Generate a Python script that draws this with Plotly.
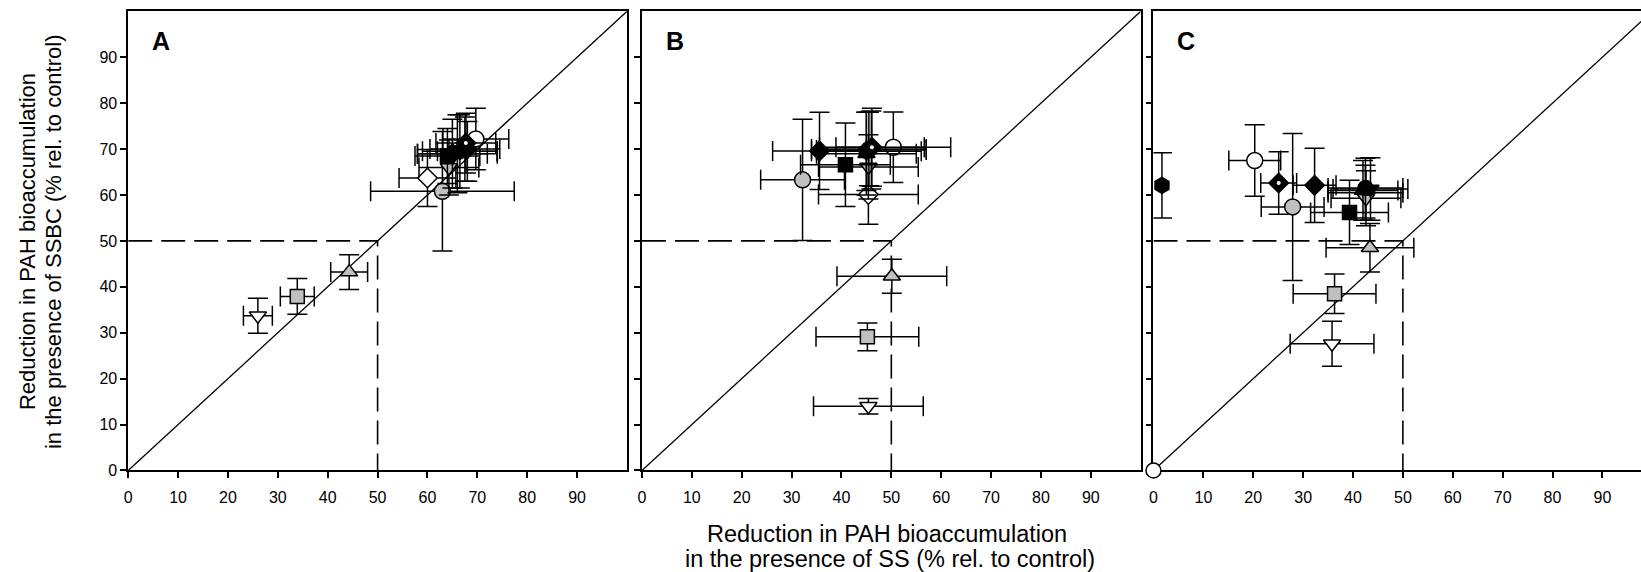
import plotly.graph_objects as go

# ---------------- data ----------------
COMPOUNDS = ["PAH-01", "PAH-02", "PAH-03", "PAH-04", "PAH-05", "PAH-06", "PAH-07",
             "PAH-08", "PAH-09", "PAH-10", "PAH-11", "PAH-12", "PAH-13", "PAH-14", "PAH-15"]

# panel A (x: SS reduction, y: SSBC reduction)
A_X    = [26.0, 33.9, 44.3, 60.0, 63.0, 69.7, 67.7, 65.0, 64.0, 66.5, 67.5, 66.0, 68.0, 64.3, None]
A_XERR = [2.9,  3.4,  3.7,  5.7, 14.4,  6.6,  6.0,  7.0,  6.5,  7.5,  7.0,  8.0,  6.0,  6.0, None]
A_Y    = [33.7, 37.9, 43.2, 63.7, 60.8, 72.2, 71.3, 69.0, 68.5, 69.5, 70.0, 69.0, 69.5, 66.0, None]
A_YERR = [3.8,  3.9,  3.8,  6.2, 13.0,  6.7,  6.5,  7.5,  6.0,  8.0,  7.0,  8.5,  6.5,  6.0, None]

# panel B
B_X    = [45.4, 45.2, 50.1, 45.4, 32.2, 50.4, 46.1, 35.6, 40.8, 45.0, 45.5, 45.0, 46.0, 45.4, None]
B_XERR = [11.0, 10.3, 11.0, 10.0,  8.4, 11.5, 10.5,  9.4,  9.0, 11.0, 11.5, 10.0, 11.0, 10.0, None]
B_Y    = [14.0, 29.1, 42.3, 60.1, 63.3, 70.4, 70.4, 69.6, 66.6, 69.5, 70.0, 69.0, 69.8, 66.1, None]
B_YERR = [1.7,   3.0,  3.7,  6.5, 13.2,  7.7,  8.5,  8.4,  9.1,  8.5,  8.0,  9.0,  8.5,  7.0, None]

# panel C
C_X    = [35.8, 36.3, 43.4, 42.5, 27.9, 20.3, 25.1, 32.3, 39.3,  1.7, 42.5, 42.0, 43.5, 42.6, 0.0]
C_XERR = [8.4,   8.3,  8.8,  7.5,  6.3,  5.2,  3.6,  4.3,  7.8,  0.0,  7.5,  7.0,  7.5,  7.0, 0.0]
C_Y    = [27.6, 38.5, 48.5, 60.5, 57.4, 67.5, 62.6, 62.1, 56.2, 62.1, 61.5, 61.0, 61.3, 59.3, 0.0]
C_YERR = [4.9,   4.3,  5.3,  6.0, 16.0,  7.8,  6.8,  8.1,  7.0,  7.1,  6.5,  6.5,  6.8,  6.0, 0.0]

TICKS = [0, 10, 20, 30, 40, 50, 60, 70, 80, 90]
PANEL_LABELS = ["A", "B", "C"]
REF_LEVEL = 50
X_TITLE_LINES = ["Reduction in PAH bioaccumulation", "in the presence of SS (% rel. to control)"]
Y_TITLE_LINES = ["Reduction in PAH bioaccumulation", "in the presence of SSBC (% rel. to control)"]

# ---------------- styles ----------------
GREY = "#c0c0c0"
SYMBOLS = ["triangle-down", "square", "triangle-up", "diamond", "circle", "circle", "diamond",
           "diamond", "square", "hexagon", "circle", "triangle-up", "triangle-down", "triangle-down", "circle"]
FILLS = ["white", GREY, GREY, "white", GREY, "white", "black",
         "black", "black", "black", "black", "black", "black", GREY, "white"]
SIZES = [15, 14, 15, 15, 16, 16, 15, 15, 14, 16, 15, 15, 15, 15, 15]
DRAW_ORDER = [14, 4, 3, 5, 13, 8, 7, 9, 10, 11, 12, 6, 0, 1, 2]
DOT_COMPOUND = 6

FONT = "Liberation Sans, Arial, sans-serif"
W, H = 1641, 572
# pixel geometry of the three panels
PX_LEFT = [124.5, 639.5, 1152.3]
PX_PER_UNIT = 5.0
PX_TOP, PX_BOTTOM = 11.5, 478.0

panels = [
    (A_X, A_XERR, A_Y, A_YERR),
    (B_X, B_XERR, B_Y, B_YERR),
    (C_X, C_XERR, C_Y, C_YERR),
]

fig = go.Figure()

for p, (xs, xe, ys, ye) in enumerate(panels):
    xa = "x" if p == 0 else f"x{p+1}"
    ya = "y" if p == 0 else f"y{p+1}"
    # 1:1 line
    fig.add_trace(go.Scatter(x=[0, 100], y=[0, 100], mode="lines",
                             line=dict(color="black", width=1.3),
                             xaxis=xa, yaxis=ya, showlegend=False, hoverinfo="skip"))
    # dashed 50 % reference lines
    fig.add_trace(go.Scatter(x=[0, REF_LEVEL, REF_LEVEL], y=[REF_LEVEL, REF_LEVEL, 0], mode="lines",
                             line=dict(color="black", width=1.6, dash="24px,9px"),
                             xaxis=xa, yaxis=ya, showlegend=False, hoverinfo="skip"))
    for i in DRAW_ORDER:
        if xs[i] is None:
            continue
        fig.add_trace(go.Scatter(
            x=[xs[i]], y=[ys[i]], mode="markers", name=COMPOUNDS[i],
            marker=dict(symbol=SYMBOLS[i], size=SIZES[i], color=FILLS[i],
                        line=dict(color="black", width=1.5)),
            error_x=dict(type="data", array=[xe[i]], visible=xe[i] > 0,
                         color="black", thickness=1.5, width=10),
            error_y=dict(type="data", array=[ye[i]], visible=ye[i] > 0,
                         color="black", thickness=1.5, width=10),
            cliponaxis=False, xaxis=xa, yaxis=ya, showlegend=False))
    # white centre dot on the dotted diamond
    fig.add_trace(go.Scatter(x=[xs[DOT_COMPOUND]], y=[ys[DOT_COMPOUND]], mode="markers",
                             marker=dict(symbol="circle", size=4, color="white",
                                         line=dict(width=0)),
                             xaxis=xa, yaxis=ya, showlegend=False, hoverinfo="skip"))

ytop = 1 - PX_TOP / H
ybot = 1 - PX_BOTTOM / H
layout = dict(width=W, height=H, margin=dict(l=0, r=0, t=0, b=0),
              paper_bgcolor="white", plot_bgcolor="white",
              font=dict(family=FONT, color="black"), showlegend=False)

for p in range(3):
    sx = "xaxis" if p == 0 else f"xaxis{p+1}"
    sy = "yaxis" if p == 0 else f"yaxis{p+1}"
    x0 = PX_LEFT[p]
    x1 = min(x0 + 100 * PX_PER_UNIT, W)
    xmax = (x1 - x0) / PX_PER_UNIT
    layer = "below traces" if p == 2 else "above traces"
    layout[sx] = dict(domain=[x0 / W, x1 / W], range=[0, xmax], tickvals=TICKS,
                      ticks="outside", ticklen=6, tickwidth=1.5, tickcolor="black",
                      showline=True, linewidth=1.5, linecolor="black", mirror=True,
                      showgrid=False, zeroline=False, layer=layer,
                      tickfont=dict(size=16, family=FONT), ticklabelstandoff=6,
                      anchor="y" if p == 0 else f"y{p+1}")
    layout[sy] = dict(domain=[ybot, ytop], range=[0, 100], tickvals=TICKS,
                      ticks="outside", ticklen=6, tickwidth=1.5, tickcolor="black",
                      showline=True, linewidth=1.5, linecolor="black",
                      mirror=(p < 2), showgrid=False, zeroline=False, layer=layer,
                      showticklabels=(p == 0),
                      tickfont=dict(size=16, family=FONT),
                      anchor="x" if p == 0 else f"x{p+1}")

fig.update_layout(**layout)

annotations = []
for p in range(3):
    annotations.append(dict(text=f"<b>{PANEL_LABELS[p]}</b>", x=6.6, y=93.5,
                            xref="x" if p == 0 else f"x{p+1}",
                            yref="y" if p == 0 else f"y{p+1}",
                            showarrow=False, font=dict(size=25, family=FONT),
                            xanchor="center", yanchor="middle"))
# x-axis title (two lines)
for txt, cx, cy in zip(X_TITLE_LINES, [885.5, 888.6], [543.0, 568.0]):
    annotations.append(dict(text=txt, x=cx / W, y=1 - cy / H, xref="paper", yref="paper",
                            showarrow=False, font=dict(size=23.5, family=FONT),
                            xanchor="center", yanchor="middle"))
# y-axis title (two lines, rotated)
for txt, cx in zip(Y_TITLE_LINES, [23.0, 49.0]):
    annotations.append(dict(text=txt, x=cx / W, y=1 - 245 / H, xref="paper", yref="paper",
                            showarrow=False, textangle=-90, font=dict(size=22, family=FONT),
                            xanchor="center", yanchor="middle"))
fig.update_layout(annotations=annotations)

fig.write_html("out.html")
